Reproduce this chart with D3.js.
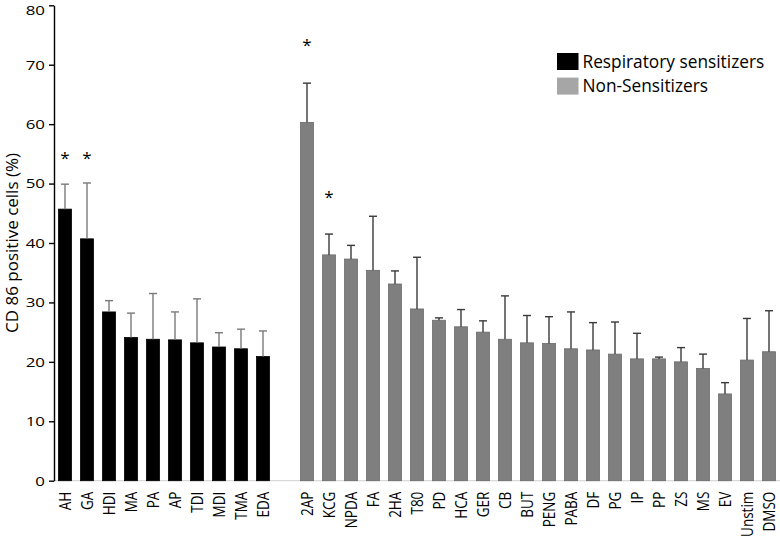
<!DOCTYPE html>
<html>
<head>
<meta charset="utf-8">
<script src="https://cdn.jsdelivr.net/npm/d3@7"></script>
<style>
  body { margin: 0; background: #fff; }
  svg text { font-family: "Open Sans", "Noto Sans", sans-serif; fill: #000; }
</style>
</head>
<body>
<svg id="chart" width="780" height="540"></svg>
<script>
/* ───────────── DATA ───────────── */
const sensitizers    = ["AH", "GA", "HDI", "MA", "PA", "AP", "TDI", "MDI", "TMA", "EDA"];
const sensMeans      = [45.7, 40.7, 28.4, 24.1, 23.8, 23.7, 23.2, 22.5, 22.2, 20.9];
const sensErrTop     = [49.9, 50.1, 30.3, 28.2, 31.5, 28.4, 30.6, 24.9, 25.5, 25.2];

const nonSensitizers = ["2AP", "KCG", "NPDA", "FA", "2HA", "T80", "PD", "HCA", "GER", "CB", "BUT",
                        "PENG", "PABA", "DF", "PG", "IP", "PP", "ZS", "MS", "EV", "Unstim", "DMSO"];
const nonMeans       = [60.3, 38.0, 37.3, 35.4, 33.1, 28.9, 27.0, 25.9, 25.0, 23.8, 23.2,
                        23.1, 22.2, 22.0, 21.3, 20.5, 20.5, 20.0, 18.9, 14.6, 20.3, 21.7];
const nonErrTop      = [66.9, 41.5, 39.6, 44.5, 35.3, 37.6, 27.4, 28.8, 26.9, 31.1, 27.8,
                        27.6, 28.4, 26.6, 26.7, 24.8, 20.8, 22.4, 21.3, 16.5, 27.3, 28.6];

const starNames      = ["AH", "GA", "2AP", "KCG"];
const starValues     = [54.5, 54.5, 73.5, 47.9];

const yTicks         = [0, 10, 20, 30, 40, 50, 60, 70, 80];
const legendLabels   = ["Respiratory sensitizers", "Non-Sensitizers"];

/* ───────────── BUILD ROWS ───────────── */
const GAP = "__gap__";
const rows = [
  ...sensitizers.map((n, i) => ({ name: n, mean: sensMeans[i], top: sensErrTop[i], group: 0 })),
  ...nonSensitizers.map((n, i) => ({ name: n, mean: nonMeans[i], top: nonErrTop[i], group: 1 }))
];
const domain = [...sensitizers, GAP, ...nonSensitizers];

/* ───────────── SCALES ───────────── */
const svg = d3.select("#chart");
const x0 = 54, x1 = 780, yTop = 5.3, yBot = 480.7;
const stretch = 1.25;   // the source figure's text is a bit wider than it is tall

const x = d3.scaleBand().domain(domain).range([x0, x1])
            .paddingInner(0.41).paddingOuter(0.205);
const y = d3.scaleLinear().domain([0, 80]).range([yBot, yTop]);

const barFill   = ["#000000", "#7f7f7f"];
const barStroke = ["#000000", "#6b6b6b"];
const errColor  = ["#7a7a7a", "#3a3a3a"];

/* ───────────── BASELINE ───────────── */
svg.append("line")
   .attr("x1", x0).attr("x2", x1)
   .attr("y1", y(0)).attr("y2", y(0))
   .attr("stroke", "#d9d9d9").attr("stroke-width", 1.3);

/* ───────────── BARS ───────────── */
svg.append("g").selectAll("rect")
   .data(rows).join("rect")
   .attr("x", d => x(d.name))
   .attr("y", d => y(d.mean))
   .attr("width", x.bandwidth())
   .attr("height", d => y(0) - y(d.mean))
   .attr("fill", d => barFill[d.group])
   .attr("stroke", d => barStroke[d.group])
   .attr("stroke-width", 0.8);

/* error bars (upper only) */
const err = svg.append("g").selectAll("g").data(rows).join("g")
   .attr("stroke", d => errColor[d.group]).attr("stroke-width", 1.4);
err.append("line")
   .attr("x1", d => x(d.name) + x.bandwidth() / 2)
   .attr("x2", d => x(d.name) + x.bandwidth() / 2)
   .attr("y1", d => y(d.mean)).attr("y2", d => y(d.top));
err.append("line")
   .attr("x1", d => x(d.name) + x.bandwidth() / 2 - 4)
   .attr("x2", d => x(d.name) + x.bandwidth() / 2 + 4)
   .attr("y1", d => y(d.top)).attr("y2", d => y(d.top));

/* significance stars */
svg.append("g").selectAll("text")
   .data(starNames).join("text")
   .attr("x", d => x(d) + x.bandwidth() / 2)
   .attr("y", (d, i) => y(starValues[i]) + 7)
   .attr("text-anchor", "middle")
   .style("font-size", "17px")
   .text("*");

/* ───────────── AXES ───────────── */
const yAxis = svg.append("g")
   .attr("transform", `translate(${x0},0)`)
   .call(d3.axisLeft(y).tickValues(yTicks).tickSize(5).tickPadding(4).tickSizeOuter(0));
yAxis.select(".domain").attr("stroke", "#000").attr("stroke-width", 1.4);
yAxis.selectAll(".tick line").attr("stroke", "#000").attr("stroke-width", 1.4);
yAxis.selectAll(".tick text")
   .style("font-size", "13.5px").style("font-family", "'Open Sans', sans-serif").attr("fill", "#000")
   .attr("x", -9 / stretch)
   .attr("transform", `scale(${stretch},1)`);
// keep the top label inside the picture
yAxis.selectAll(".tick").filter(d => d === 80).select("text").attr("dy", "0.68em");

const xAxis = svg.append("g")
   .attr("transform", `translate(0,${y(0)})`)
   .call(d3.axisBottom(x).tickSize(0).tickFormat(d => d === GAP ? "" : d));
xAxis.select(".domain").remove();
xAxis.selectAll(".tick text")
   .style("font-size", "13.5px").style("font-family", "'Open Sans', sans-serif").attr("fill", "#000")
   .attr("text-anchor", "end")
   .attr("transform", `scale(${stretch},1) rotate(-90)`)
   .attr("x", -11).attr("y", 0).attr("dy", "0.35em");

/* y axis title */
svg.append("text")
   .attr("transform", `translate(18,${(yTop + yBot) / 2}) rotate(-90)`)
   .attr("text-anchor", "middle")
   .style("font-size", "17px")
   .text("CD 86 positive cells (%)");

/* ───────────── LEGEND ───────────── */
const legendFill = ["#000000", "#a6a6a6"];
const leg = svg.append("g").attr("transform", "translate(557,53)").selectAll("g")
   .data(legendLabels).join("g")
   .attr("transform", (d, i) => `translate(0,${i * 24.6})`);
leg.append("rect")
   .attr("width", 21.5).attr("height", 17)
   .attr("fill", (d, i) => legendFill[i]);
leg.append("text")
   .attr("x", 25.5).attr("y", 14.5)
   .style("font-size", "17.3px")
   .text(d => d);
</script>
</body>
</html>
